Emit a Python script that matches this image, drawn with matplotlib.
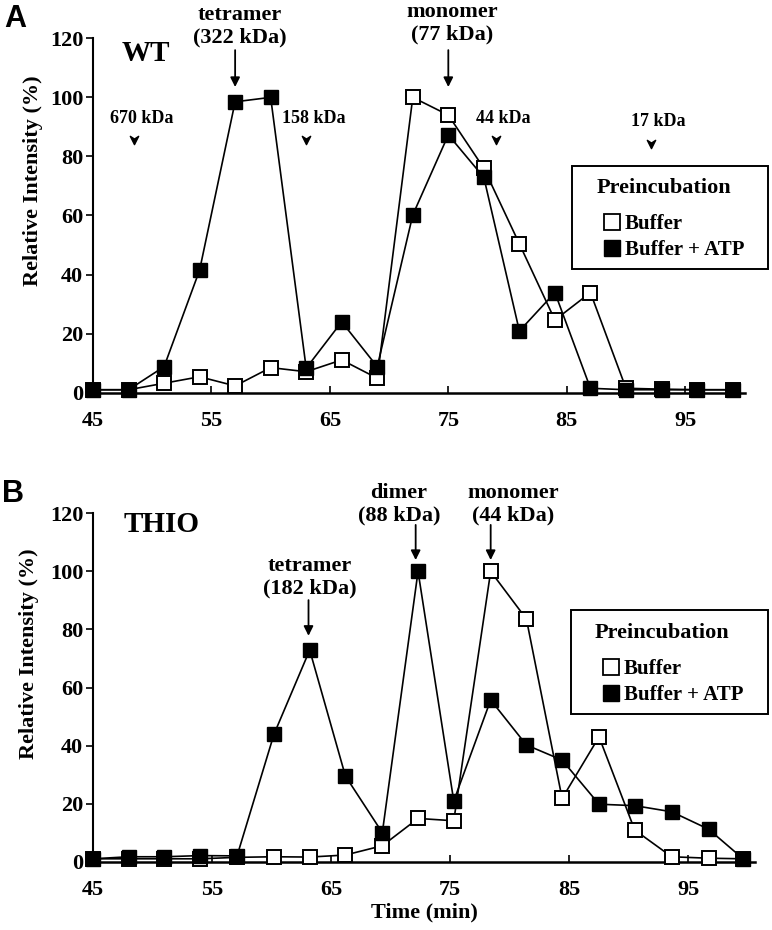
import matplotlib
matplotlib.use("Agg")
import matplotlib.pyplot as plt
from matplotlib.lines import Line2D
from matplotlib.patches import Rectangle
from matplotlib.path import Path

plt.rcParams['font.family'] = ['Liberation Serif', 'DejaVu Serif']
plt.rcParams['font.weight'] = 'bold'

# Panel A (WT) - elution time (min) and relative intensity (%)
time_a = [45, 48, 51, 54, 57, 60, 63, 66, 69, 72, 75, 78, 81, 84, 87, 90, 93, 96, 99]
wt_buffer = [1, 1, 3.2, 5.4, 2.3, 8.5, 7.1, 11.1, 4.9, 100, 94, 76, 50.4, 24.6, 33.9, 1.5, 1.2, 1, 1]
wt_atp = [1, 1, 8.8, 41.5, 98.5, 100, 8.3, 24, 8.8, 60.2, 87.3, 72.9, 20.9, 33.9, 1.5, 1, 1, 1, 1]

# Panel B (THIO)
time_b = [45, 48, 51, 54, 57.1, 60.2, 63.2, 66.2, 69.3, 72.3, 75.3, 78.4, 81.4, 84.4,
          87.5, 90.5, 93.6, 96.7, 99.6]
thio_buffer = [1, 1, 1, 1, 1.5, 1.7, 1.6, 2.3, 5.5, 14.9, 14.1, 100, 83.6, 21.8, 43, 10.9, 1.7, 1.2, 1]
thio_atp = [1, 1.7, 1.7, 2.1, 2, 43.9, 72.9, 29.5, 10, 100, 20.9, 55.7, 40.2, 35, 19.8, 19.3, 17.2, 11.2, 1]

# standards (small arrowheads) in panel A
std_labels = ['670 kDa', '158 kDa', '44 kDa', '17 kDa']
std_times = [48.5, 63.0, 79.0, 92.1]

xticks = [45, 55, 65, 75, 85, 95]
yticks = [0, 20, 40, 60, 80, 100, 120]

chevron = Path([(-1, 1), (0, -1), (1, 1), (0, 0.35), (-1, 1)],
               [Path.MOVETO, Path.LINETO, Path.LINETO, Path.LINETO, Path.CLOSEPOLY])

fig = plt.figure(figsize=(7.72, 9.30), dpi=100)
W, H = 772, 930


def make_axes(left, right, top, bottom, xmax):
    ax = fig.add_axes([left / W, 1 - bottom / H, (right - left) / W, (bottom - top) / H])
    ax.set_xlim(45, xmax)
    ax.set_ylim(0, 120)
    ax.spines['top'].set_visible(False)
    ax.spines['right'].set_visible(False)
    ax.spines['left'].set_linewidth(1.5)
    ax.spines['bottom'].set_linewidth(1.8)
    ax.set_xticks(xticks)
    ax.set_yticks(yticks)
    ax.tick_params(axis='x', direction='in', length=5, width=1.2, labelsize=16, pad=13)
    ax.tick_params(axis='y', direction='out', length=5, width=1.2, labelsize=16, pad=2)
    ax.set_ylabel('Relative Intensity (%)', fontsize=16, fontweight='bold')
    return ax


def draw_series(ax, t, buf, atp):
    ax.plot(t, buf, color='k', lw=1.2, marker='s', ms=10, mfc='white', mec='k',
            mew=1.4, clip_on=False, zorder=3)
    ax.plot(t, atp, color='k', lw=1.2, marker='s', ms=10, mfc='black', mec='k',
            mew=1.0, clip_on=False, zorder=4)


def arrow(ax, x, y_tail, y_tip):
    ax.annotate('', xy=(x, y_tip), xytext=(x, y_tail), annotation_clip=False,
                arrowprops=dict(arrowstyle='-|>', color='k', lw=1.3, mutation_scale=14,
                                shrinkA=0, shrinkB=0))


def add_legend(box, title_xy, entries_top):
    x0, y0, x1, y1 = box
    fig.add_artist(Rectangle((x0 / W, 1 - y1 / H), (x1 - x0) / W, (y1 - y0) / H,
                             transform=fig.transFigure, fill=False, ec='k', lw=1.4))
    fig.text(title_xy[0] / W, 1 - title_xy[1] / H, 'Preincubation', fontsize=16,
             fontweight='bold', ha='left', va='center')
    handles = [Line2D([], [], ls='none', marker='s', ms=11, mfc='white', mec='k', mew=1.3),
               Line2D([], [], ls='none', marker='s', ms=11, mfc='black', mec='k')]
    leg = fig.legend(handles, ['Buffer', 'Buffer + ATP'], loc='upper left',
                     bbox_to_anchor=(entries_top[0] / W, 1 - entries_top[1] / H),
                     fontsize=15, frameon=False, handlelength=0.75, handletextpad=0.25,
                     labelspacing=0.28, borderpad=0, borderaxespad=0)
    for t in leg.get_texts():
        t.set_fontweight('bold')
    return leg


# ---------- Panel A ----------
axA = make_axes(93, 745, 38.3, 392.7, 100.05)
draw_series(axA, time_a, wt_buffer, wt_atp)
axA.yaxis.set_label_coords(-0.076, 0.597)
axA.text(49.5, 115, 'WT', fontsize=21, fontweight='bold', ha='center', va='center')

axA.text(57.4, 124, 'tetramer\n(322 kDa)', fontsize=16, fontweight='bold',
         ha='center', va='center', linespacing=1.15, clip_on=False)
arrow(axA, 57.0, 116, 103.5)
axA.text(75.3, 125, 'monomer\n(77 kDa)', fontsize=16, fontweight='bold',
         ha='center', va='center', linespacing=1.15, clip_on=False)
arrow(axA, 75.0, 116, 103.5)

for lab, t in zip(std_labels, std_times):
    ty = 93 if lab != '17 kDa' else 91.7
    axA.text(t + 0.6, ty, lab, fontsize=13, fontweight='bold', ha='center', va='center')
    axA.plot([t], [ty - 7.5], marker=chevron, ms=6, color='k', ls='none')

add_legend((571.7, 165.7, 768.3, 269.3), (596.7, 188), (604, 214))

# ---------- Panel B ----------
axB = make_axes(93, 755, 513.3, 861.7, 100.6)
draw_series(axB, time_b, thio_buffer, thio_atp)
axB.yaxis.set_label_coords(-0.082, 0.596)
axB.set_xlabel('Time (min)', fontsize=16, fontweight='bold', labelpad=2)
axB.text(50.8, 116, 'THIO', fontsize=21, fontweight='bold', ha='center', va='center')

axB.text(63.2, 97.9, 'tetramer\n(182 kDa)', fontsize=16, fontweight='bold',
         ha='center', va='center', linespacing=1.15)
arrow(axB, 63.1, 90.1, 77.8)
axB.text(70.7, 123.2, 'dimer\n(88 kDa)', fontsize=16, fontweight='bold',
         ha='center', va='center', linespacing=1.15, clip_on=False)
arrow(axB, 72.1, 116, 103.9)
axB.text(80.3, 123.2, 'monomer\n(44 kDa)', fontsize=16, fontweight='bold',
         ha='center', va='center', linespacing=1.15, clip_on=False)
arrow(axB, 78.4, 116, 103.9)

add_legend((571, 610, 767.7, 714.3), (595, 633.3), (603, 659))

# panel letters
fig.text(15 / W, 1 - 19 / H, 'A', fontsize=22, fontweight='bold', family='Liberation Sans',
         ha='center', va='center')
fig.text(13 / W, 1 - 494 / H, 'B', fontsize=22, fontweight='bold', family='Liberation Sans',
         ha='center', va='center')

fig.savefig('out.png', dpi=100)
